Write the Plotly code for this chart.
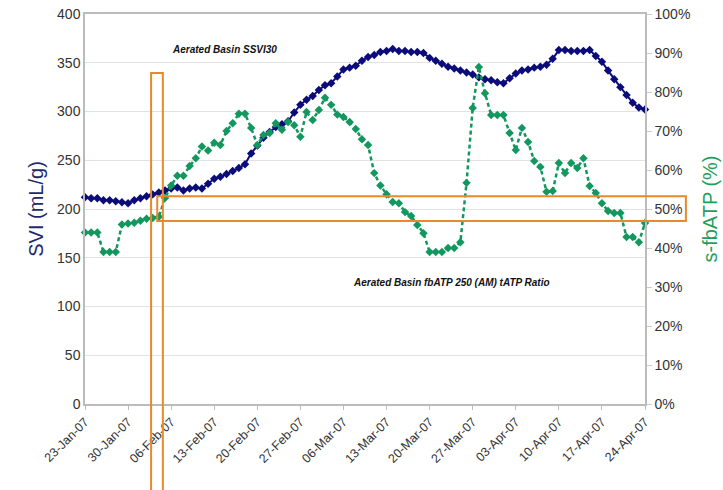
import datetime as dt
import plotly.graph_objects as go

# Daily readings, 23-Jan-07 through 24-Apr-07
start_date = dt.date(2007, 1, 23)

# Aerated basin SSVI30 (mL/g)
svi = [212, 211, 211, 209, 209, 208, 207, 206, 209, 211, 213, 215, 217, 219, 221, 222,
       219, 221, 222, 221, 226, 231, 233, 236, 239, 242, 246, 257, 265, 273, 279, 284,
       287, 290, 299, 307, 312, 316, 322, 327, 329, 336, 343, 345, 347, 352, 356, 358,
       361, 362, 364, 362, 362, 361, 361, 360, 355, 352, 349, 346, 344, 342, 340, 338,
       335, 333, 332, 330, 329, 334, 339, 342, 343, 345, 346, 348, 354, 363, 363, 362,
       362, 362, 363, 357, 351, 342, 333, 325, 317, 309, 304, 302]

# Aerated basin fbATP 250 (AM) / tATP ratio (fraction)
sfbatp = [0.440, 0.440, 0.440, 0.390, 0.390, 0.390, 0.460, 0.463, 0.465, 0.470, 0.475,
          0.477, 0.480, 0.528, 0.560, 0.585, 0.585, 0.610, 0.630, 0.660, 0.650, 0.670,
          0.664, 0.700, 0.720, 0.744, 0.744, 0.708, 0.664, 0.690, 0.695, 0.720, 0.703,
          0.723, 0.715, 0.685, 0.749, 0.728, 0.754, 0.785, 0.767, 0.742, 0.736, 0.723,
          0.705, 0.679, 0.664, 0.592, 0.560, 0.538, 0.518, 0.515, 0.492, 0.482, 0.459,
          0.438, 0.390, 0.390, 0.390, 0.400, 0.400, 0.415, 0.567, 0.759, 0.864, 0.797,
          0.741, 0.741, 0.741, 0.695, 0.651, 0.708, 0.672, 0.623, 0.608, 0.544, 0.546,
          0.618, 0.592, 0.618, 0.605, 0.630, 0.559, 0.541, 0.515, 0.495, 0.490, 0.490,
          0.428, 0.428, 0.415, 0.464]

dates = [start_date + dt.timedelta(days=i) for i in range(len(svi))]
week_ticks = [start_date + dt.timedelta(days=7 * k) for k in range(14)]
week_labels = [d.strftime("%d-%b-%y") for d in week_ticks]

NAVY = "#0b0b7a"
GREEN = "#12975e"
ORANGE = "#e8892a"
FONT = "Liberation Sans"

fig = go.Figure()

fig.add_trace(go.Scatter(
    x=dates, y=svi, mode="lines+markers", name="SSVI30",
    line=dict(color=NAVY, width=2),
    marker=dict(symbol="diamond", size=6.5, color=NAVY),
    cliponaxis=False,
))

fig.add_trace(go.Scatter(
    x=dates, y=sfbatp, mode="lines+markers", name="s-fbATP", yaxis="y2",
    line=dict(color=GREEN, width=2.5, dash="4px,3px"),
    marker=dict(symbol="diamond", size=6.5, color=GREEN),
    cliponaxis=False,
))

# Series labels inside the plot
fig.add_annotation(x=0.249, y=0.928, xref="paper", yref="paper", xanchor="center",
                   text="<b><i>Aerated Basin SSVI30</i></b>", showarrow=False,
                   font=dict(family=FONT, size=10, color="#111"))
fig.add_annotation(x=0.655, y=0.292, xref="paper", yref="paper", xanchor="center",
                   text="<b><i>Aerated Basin fbATP 250 (AM) tATP Ratio</i></b>", showarrow=False,
                   font=dict(family=FONT, size=10, color="#111"))

# Highlight boxes
fig.add_shape(type="rect", xref="paper", yref="paper",
              x0=0.118, x1=0.139, y0=-0.25, y1=0.849,
              line=dict(color=ORANGE, width=2), fillcolor="rgba(0,0,0,0)")
fig.add_shape(type="rect", xref="paper", yref="paper",
              x0=0.129, x1=1.073, y0=0.469, y1=0.533,
              line=dict(color=ORANGE, width=2), fillcolor="rgba(0,0,0,0)")

fig.update_layout(
    width=723, height=490,
    margin=dict(l=85, r=78, t=14, b=86, autoexpand=False),
    paper_bgcolor="white", plot_bgcolor="white",
    showlegend=False,
    font=dict(family=FONT, size=14, color="#333"),
    xaxis=dict(
        type="date", automargin=False,
        range=[start_date, start_date + dt.timedelta(days=91)],
        tickmode="array", tickvals=week_ticks, ticktext=week_labels,
        tickangle=-45, tickfont=dict(size=12.5, color="#333"),
        ticks="outside", ticklen=4, tickcolor="#bbb",
        showgrid=False, showline=True, linecolor="#bbb", linewidth=1.5, mirror=True,
        zeroline=False,
    ),
    yaxis=dict(
        range=[0, 400], dtick=50, automargin=False,
        showgrid=True, gridcolor="#e2e2e2", gridwidth=1,
        showline=True, linecolor="#bbb", linewidth=1.5,
        zeroline=False, ticks="",
        title=dict(text="SVI (mL/g)", font=dict(size=20, color="#1f2a6b"), standoff=8),
    ),
    yaxis2=dict(
        overlaying="y", side="right", automargin=False,
        range=[0, 1], dtick=0.1, tickformat=".0%",
        showgrid=False, zeroline=False,
        showline=True, linecolor="#bbb", linewidth=1.5,
        ticks="outside", ticklen=5, tickcolor="#ccc",
        title=dict(text="s-fbATP (%)", font=dict(size=20, color="#1fa05a"), standoff=14),
    ),
)

fig.write_html("out.html")
